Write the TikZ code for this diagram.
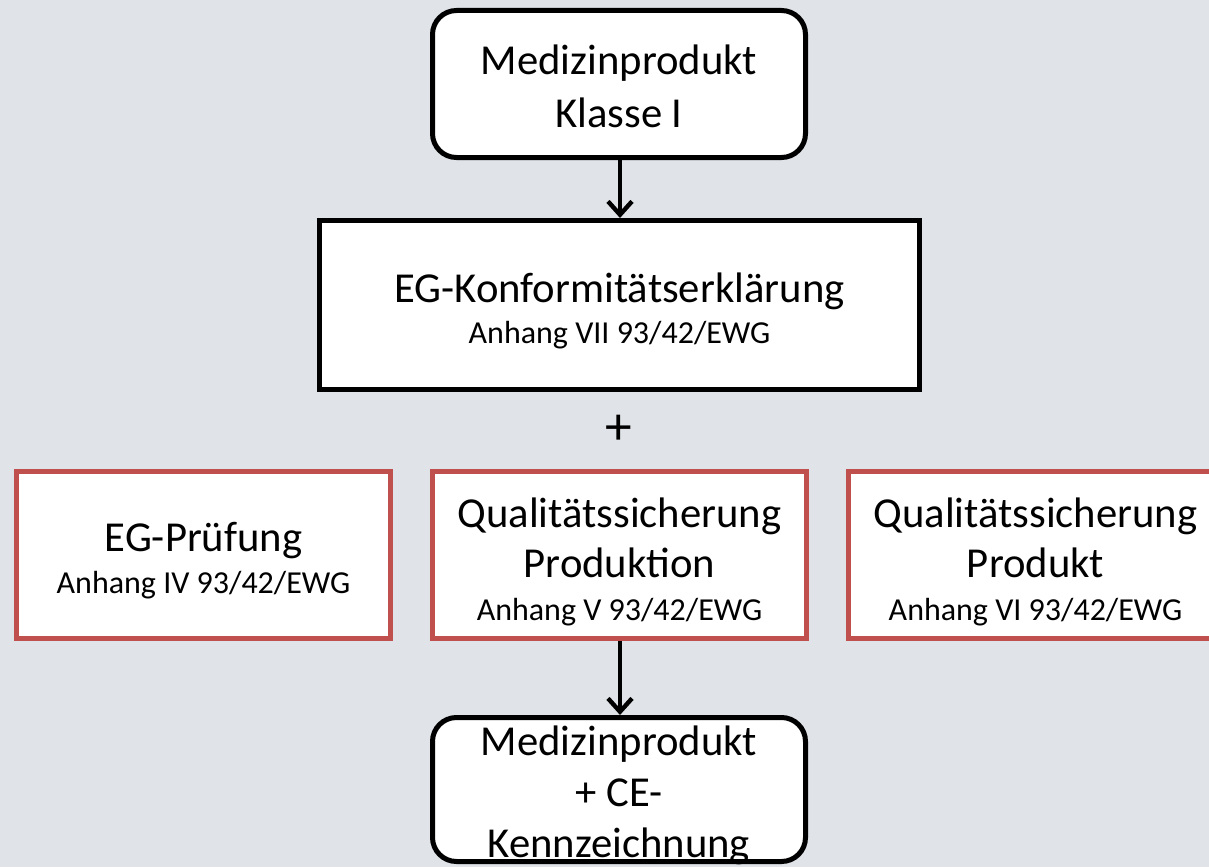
\documentclass[tikz,border=0pt]{standalone}
\usepackage{fontspec}
\setmainfont{Carlito}
\usetikzlibrary{arrows.meta}
\definecolor{bgc}{RGB}{224,227,231}
\definecolor{redb}{RGB}{192,80,77}
\newcommand{\bigf}{\fontsize{32}{37}\selectfont}
\newcommand{\smallf}{\fontsize{24}{29}\selectfont}
\tikzset{
  box/.style={draw=black, line width=3.75pt, fill=white, inner sep=0pt},
  roundbox/.style={box, rounded corners=18pt, minimum width=279.75pt},
  redbox/.style={box, draw=redb, line width=3.4pt, minimum width=280.5pt, minimum height=125.25pt},
  txt/.style={inner sep=0pt, align=center, font=\bigf},
  arr/.style={line width=3.3pt, -{Straight Barb[length=10pt,width=18pt,line width=3.3pt]}},
}
\begin{document}
\begin{tikzpicture}[x=0.75pt,y=-0.75pt]
\fill[bgc] (0,0) rectangle (1209,867);
\clip (0,0) rectangle (1209,867);
\useasboundingbox (0,0) rectangle (1209,867);
% boxes
\node[roundbox, minimum height=110.25pt] (top) at (619,84) {};
\node[box, minimum width=450pt, minimum height=126.75pt] (konf) at (619.5,305) {};
\node[redbox] (pruef) at (203.5,555) {};
\node[redbox] (qprod) at (619.5,555) {};
\node[redbox] (qpdt) at (1035.5,555) {};
\node[roundbox, minimum height=108pt] (ce) at (619,789.5) {};
% texts
\node[txt, font=\fontsize{32}{39.75}\selectfont] (top-t) at ([yshift=-1.5pt]top.center) {Medizinprodukt\\Klasse I};
\node[txt] (konf-t) at ([yshift=-4.5pt]konf.center) {EG-Konformitätserklärung\\[-6pt]{\smallf Anhang VII 93/42/EWG}};
\node[txt] (pruef-t) at ([yshift=-4.5pt]pruef.center) {EG-Prüfung\\[-5.5pt]{\smallf Anhang IV 93/42/EWG}};
\node[txt, font=\fontsize{32}{37.5}\selectfont] (qprod-t) at ([yshift=-5pt]qprod.center) {Qualitätssicherung\\Produktion\\[-5.5pt]{\smallf Anhang V 93/42/EWG}};
\node[txt, font=\fontsize{32}{37.5}\selectfont] (qpdt-t) at ([yshift=-5pt]qpdt.center) {Qualitätssicherung\\Produkt\\[-5.5pt]{\smallf Anhang VI 93/42/EWG}};
\node[txt, font=\fontsize{32}{38.5}\selectfont] (ce-t) at ([yshift=-4.5pt]ce.center) {Medizinprodukt\\+ CE-\\Kennzeichnung};
\node[txt, font=\fontsize{40}{40}\selectfont] (plus) at (619,430) {+};
% connectors
\draw[arr] (top.south -| 620,0) -- (konf.north -| 620,0);
\draw[arr] (qprod.south -| 620,0) -- (ce.north -| 620,0);
\end{tikzpicture}
\end{document}
